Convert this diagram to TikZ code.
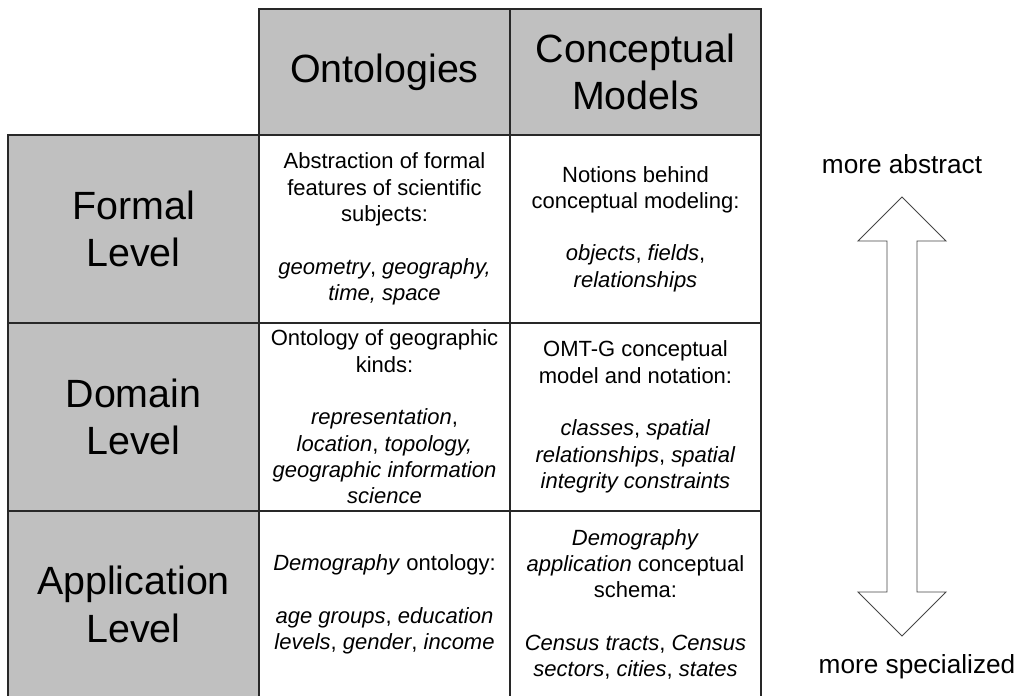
\documentclass[tikz,border=0pt]{standalone}
\usepackage{fontspec}
\setmainfont{Liberation Sans}
\definecolor{cellgray}{RGB}{192,192,192}
\definecolor{linec}{RGB}{40,40,40}
\definecolor{arrowc}{RGB}{70,70,70}
\tikzset{
  cell/.style={draw=linec, line width=1.2pt, rectangle, inner sep=0pt, align=center,
    minimum width=251pt, font=\fontsize{22}{26.3}\selectfont},
  graycell/.style={cell, fill=cellgray, font=\fontsize{39.4}{47.5}\selectfont},
  sidelabel/.style={inner sep=0pt, anchor=base, font=\fontsize{26.2}{31}\selectfont},
  bigarrow/.style={draw=arrowc, line width=0.9pt, fill=white, line join=miter},
}
\begin{document}
\begin{tikzpicture}[x=1pt,y=-1pt]
\useasboundingbox (0,0) rectangle (1020,696);
% header
\node[graycell, minimum height=126pt] (hOnt) at (384.5,72) {Ontologies};
\node[graycell, minimum height=126pt] (hCon) at (635.5,72) {Conceptual\\Models};
% row labels
\node[graycell, minimum height=188pt] (rFor) at (133.5,229) {Formal\\Level};
\node[graycell, minimum height=188pt] (rDom) at (133.5,417) {Domain\\Level};
\node[graycell, minimum height=187pt] (rApp) at (133.5,604.5) {Application\\Level};
% body cells
\node[cell, minimum height=188pt] (fOnt) at (384.5,229)
  {Abstraction of formal\\features of scientific\\subjects:\\[26.3pt]
   \textit{geometry}, \textit{geography,}\\\textit{time, space}};
\node[cell, minimum height=188pt] (fCon) at (635.5,229)
  {Notions behind\\conceptual modeling:\\[26.3pt]
   \textit{objects}, \textit{fields},\\\textit{relationships}};
\node[cell, minimum height=188pt] (dOnt) at (384.5,417)
  {Ontology of geographic\\kinds:\\[26.3pt]
   \textit{representation},\\\textit{location}, \textit{topology,}\\\textit{geographic information}\\\textit{science}};
\node[cell, minimum height=188pt] (dCon) at (635.5,417)
  {OMT-G conceptual\\model and notation:\\[26.3pt]
   \textit{classes}, \textit{spatial}\\\textit{relationships}, \textit{spatial}\\\textit{integrity constraints}};
\node[cell, minimum height=187pt] (aOnt) at (384.5,604.5)
  {\textit{Demography} ontology:\\[26.3pt]
   \textit{age groups}, \textit{education}\\\textit{levels}, \textit{gender}, \textit{income}};
\node[cell, minimum height=187pt] (aCon) at (635.5,604.5)
  {\textit{Demography}\\\textit{application} conceptual\\schema:\\[26.3pt]
   \textit{Census tracts}, \textit{Census}\\\textit{sectors}, \textit{cities}, \textit{states}};
% side labels
\node[sidelabel] (abs) at (902,173) {more abstract};
\node[sidelabel] (spe) at (917,673) {more specialized};
% double block arrow
\coordinate (tipT) at (902,197);
\coordinate (tipB) at (902,636);
\draw[bigarrow] (tipT) -- (946,241) -- (917,241) -- (917,592) -- (946,592) -- (tipB)
  -- (858,592) -- (887,592) -- (887,241) -- (858,241) -- cycle;
\end{tikzpicture}
\end{document}
